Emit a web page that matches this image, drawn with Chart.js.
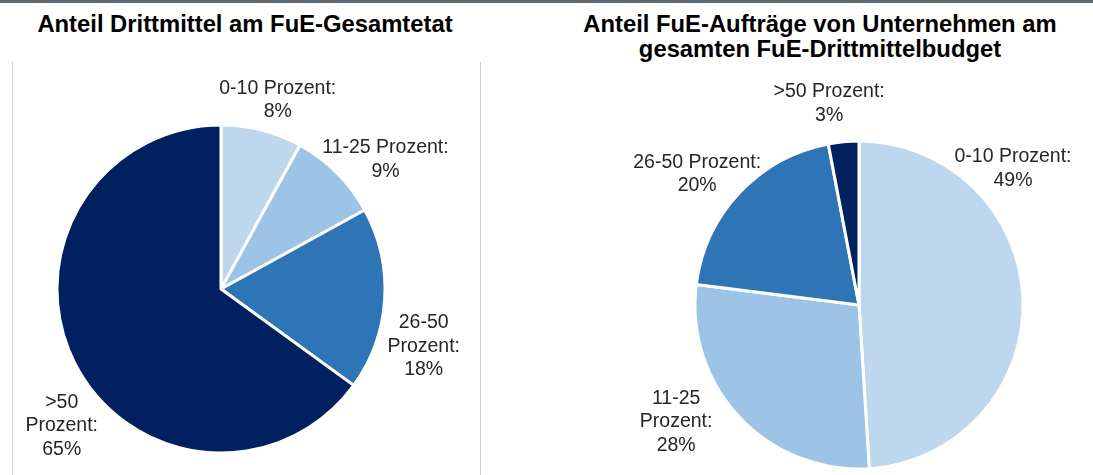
<!DOCTYPE html>
<html>
<head>
<meta charset="utf-8">
<script src="https://cdn.jsdelivr.net/npm/chart.js@4.4.1/dist/chart.umd.min.js"></script>
<style>
  body { margin: 0; background: #fff; font-family: "Liberation Sans", Arial, sans-serif; }
  #wrap { position: relative; width: 1093px; height: 475px; overflow: hidden; }
  #topbar { position: absolute; left: 0; top: 0; width: 1093px; height: 3px; background: #5f6870; }
  .title { position: absolute; font-weight: bold; font-size: 23.8px; color: #000; text-align: center; line-height: 25px; white-space: nowrap; }
  #leftBox { position: absolute; left: 12px; top: 62px; width: 467px; height: 413px;
             border-left: 1px solid #d0d0d0; border-right: 1px solid #d0d0d0; }
  canvas { position: absolute; }
</style>
</head>
<body>
<div id="wrap">
  <div id="topbar"></div>
  <div class="title" style="left:-5px; top:11px; width:500px;">Anteil Drittmittel am FuE-Gesamtetat</div>
  <div class="title" style="left:520px; top:11px; width:600px;">Anteil FuE-Aufträge von Unternehmen am<br>gesamten FuE-Drittmittelbudget</div>
  <div id="leftBox"></div>
  <canvas id="chartLeft" style="left:13px; top:62px;" width="466" height="413"></canvas>
  <canvas id="chartRight" style="left:500px; top:62px;" width="593" height="413"></canvas>
</div>
<script>
// Kategorien und Werte
const categories = ['0-10 Prozent:', '11-25 Prozent:', '26-50 Prozent:', '>50 Prozent:'];
const drittmittelAnteil = [8, 9, 18, 65];
const unternehmenAnteil = [49, 28, 20, 3];
const sliceColors = ['#BDD7EE', '#9DC3E6', '#2E75B6', '#002060'];

// Beschriftungen (Zeilen) je Chart
const labelLinesLeft = [
  ['0-10 Prozent:', '8%'],
  ['11-25 Prozent:', '9%'],
  ['26-50', 'Prozent:', '18%'],
  ['>50', 'Prozent:', '65%']
];
const labelLinesRight = [
  ['0-10 Prozent:', '49%'],
  ['11-25', 'Prozent:', '28%'],
  ['26-50 Prozent:', '20%'],
  ['>50 Prozent:', '3%']
];
// Verschiebung der Beschriftung gegenüber dem Ankerpunkt (px)
const labelShiftLeft = [[7, 5], [23, 12], [3, 45], [19, 46]];
const labelShiftRight = [[-46, -130], [-37, -20], [-16, 6], [-11, -2]];

const outsideLabels = {
  id: 'outsideLabels',
  afterDatasetsDraw(chart, args, opts) {
    const ctx = chart.ctx;
    const meta = chart.getDatasetMeta(0);
    ctx.save();
    ctx.font = '19.5px "Liberation Sans", Arial, sans-serif';
    ctx.fillStyle = '#262626';
    ctx.textAlign = 'center';
    ctx.textBaseline = 'middle';
    meta.data.forEach((arc, i) => {
      const p = arc.getProps(['x', 'y', 'startAngle', 'endAngle', 'outerRadius'], true);
      const mid = (p.startAngle + p.endAngle) / 2;
      const r = p.outerRadius * 1.22;
      const x = p.x + Math.cos(mid) * r + opts.shift[i][0];
      const y = p.y + Math.sin(mid) * r + opts.shift[i][1];
      const lines = opts.lines[i];
      const lh = 23.5;
      lines.forEach((t, k) => {
        ctx.fillText(t, x, y + (k - (lines.length - 1) / 2) * lh);
      });
    });
    ctx.restore();
  }
};

function makePie(id, values, lines, shift, padding) {
  return new Chart(document.getElementById(id), {
    type: 'pie',
    data: {
      labels: categories,
      datasets: [{
        data: values,
        backgroundColor: sliceColors,
        borderColor: '#ffffff',
        borderWidth: 3,
        radius: 164
      }]
    },
    options: {
      responsive: false,
      animation: false,
      layout: { padding: padding },
      plugins: {
        legend: { display: false },
        tooltip: { enabled: false },
        outsideLabels: { lines: lines, shift: shift }
      }
    },
    plugins: [outsideLabels]
  });
}

makePie('chartLeft', drittmittelAnteil, labelLinesLeft, labelShiftLeft,
  { left: 0, right: 50, top: 41, bottom: 0 });
makePie('chartRight', unternehmenAnteil, labelLinesRight, labelShiftRight,
  { left: 125, right: 0, top: 73, bottom: 0 });
</script>
</body>
</html>
